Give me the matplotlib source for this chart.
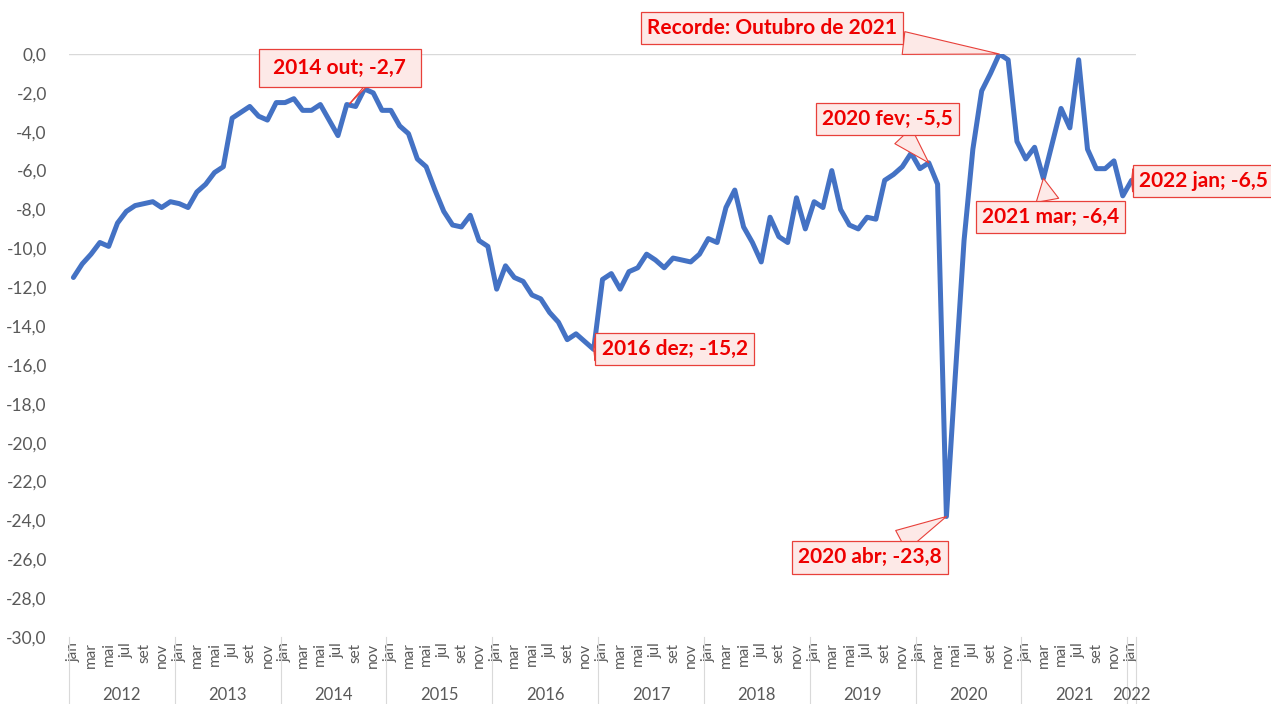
import matplotlib
matplotlib.use("Agg")
import matplotlib.pyplot as plt
import matplotlib.transforms as transforms
import numpy as np

plt.rcParams['font.family'] = ['Lato', 'DejaVu Sans']

meses = ['jan', 'fev', 'mar', 'abr', 'mai', 'jun',
         'jul', 'ago', 'set', 'out', 'nov', 'dez']
anos = list(range(2012, 2023))

# jan/2012 .. jan/2022
valores = [
    -11.5, -10.8, -10.3, -9.7, -9.9, -8.7, -8.1, -7.8, -7.7, -7.6, -7.9, -7.6,   # 2012
    -7.7, -7.9, -7.1, -6.7, -6.1, -5.8, -3.3, -3.0, -2.7, -3.2, -3.4, -2.5,      # 2013
    -2.5, -2.3, -2.9, -2.9, -2.6, -3.4, -4.2, -2.6, -2.7, -1.8, -2.0, -2.9,      # 2014
    -2.9, -3.7, -4.1, -5.4, -5.8, -7.0, -8.1, -8.8, -8.9, -8.3, -9.6, -9.9,      # 2015
    -12.1, -10.9, -11.5, -11.7, -12.4, -12.6, -13.3, -13.8, -14.7, -14.4, -14.8, -15.2,  # 2016
    -11.6, -11.3, -12.1, -11.2, -11.0, -10.3, -10.6, -11.0, -10.5, -10.6, -10.7, -10.3,  # 2017
    -9.5, -9.7, -7.9, -7.0, -8.9, -9.7, -10.7, -8.4, -9.4, -9.7, -7.4, -9.0,     # 2018
    -7.6, -7.9, -6.0, -8.0, -8.8, -9.0, -8.4, -8.5, -6.5, -6.2, -5.8, -5.1,      # 2019
    -5.9, -5.6, -6.7, -23.8, -16.6, -9.6, -4.9, -1.9, -1.0, 0.0, -0.3, -4.5,     # 2020
    -5.4, -4.8, -6.4, -4.6, -2.8, -3.8, -0.3, -4.9, -5.9, -5.9, -5.5, -7.3,      # 2021
    -6.5,                                                                         # 2022
]

notas = ["2014 out; -2,7", "Recorde: Outubro de 2021", "2016 dez; -15,2",
         "2020 fev; -5,5", "2021 mar; -6,4", "2022 jan; -6,5", "2020 abr; -23,8"]
notas_idx = [33, 105, 59, 97, 110, 120, 99]

n = len(valores)
x = np.arange(n)
cinza = '#595959'
vermelho = '#ee0000'

fig = plt.figure(figsize=(12.71, 7.04), dpi=100)
ax = fig.add_axes([69 / 1271, 67 / 704, 1067 / 1271, 583 / 704])

ax.plot(x, valores, color='#4472c4', lw=3.6,
        solid_joinstyle='round', solid_capstyle='round', zorder=2)

ax.set_xlim(-0.5, n - 0.5)
ax.set_ylim(-30, 0)
ax.axhline(0, color='#d9d9d9', lw=1, zorder=1)

yt = np.arange(-30, 1, 2)
ax.set_yticks(yt)
ax.set_yticklabels([f"{v:.1f}".replace('.', ',') for v in yt])
ax.tick_params(axis='y', length=0, pad=16, labelsize=12.5, labelcolor=cinza)

pos = [i for i in x if i % 2 == 0]
ax.set_xticks(pos)
ax.set_xticklabels([meses[i % 12] for i in pos], rotation=90)
ax.tick_params(axis='x', length=0, pad=4, labelsize=11, labelcolor=cinza)

for s in ax.spines.values():
    s.set_visible(False)

# year groups under the month labels
trans = transforms.blended_transform_factory(ax.transData, ax.transAxes)
for k, ano in enumerate(anos):
    ini = 12 * k - 0.5
    fim = min(12 * k + 11.5, n - 0.5)
    ax.plot([ini, ini], [0, -0.115], transform=trans, color='#d9d9d9',
            lw=0.8, clip_on=False)
    ax.text((ini + fim) / 2, -0.099, str(ano), transform=trans,
            ha='center', va='center', fontsize=12, color=cinza)
ax.plot([n - 0.5, n - 0.5], [0, -0.115], transform=trans, color='#d9d9d9',
        lw=0.8, clip_on=False)

# callouts (text box centre in data units)
caixas = [(30.2, -0.72), (79.2, 1.34), (68.2, -15.18), (92.3, -3.35),
          (110.8, -8.39), (128.2, -6.54), (90.3, -25.9)]
for txt, i, xyt in zip(notas, notas_idx, caixas):
    pad = 0.3
    cauda = 1.1
    if i == 33:
        txt = " " + txt + " "
        pad = 0.45
        cauda = 2.0
    ax.annotate(txt, xy=(i, valores[i]), xytext=xyt,
                ha='center', va='center', fontsize=15, fontweight='bold',
                color=vermelho, annotation_clip=False, zorder=4,
                bbox=dict(boxstyle=f'square,pad={pad}', fc='#fde9e7',
                          ec='#e8403a', lw=0.9),
                arrowprops=dict(arrowstyle=f'wedge,tail_width={cauda}',
                                fc='#fde9e7', ec='#e8403a', lw=0.8,
                                shrinkA=0, shrinkB=0))

fig.savefig('out.png', dpi=100)
